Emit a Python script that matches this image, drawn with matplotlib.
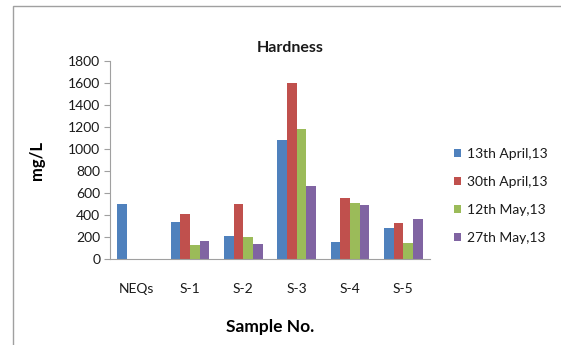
import numpy as np
import matplotlib
matplotlib.use("Agg")
import matplotlib.pyplot as plt
from matplotlib.patches import Rectangle

categories = ["NEQs", "S-1", "S-2", "S-3", "S-4", "S-5"]
series_names = ["13th April,13", "30th April,13", "12th May,13", "27th May,13"]
apr13 = [500, 338, 207, 1084, 152, 283]
apr30 = [np.nan, 405, 500, 1596, 554, 326]
may12 = [np.nan, 131, 198, 1182, 509, 143]
may27 = [np.nan, 164, 134, 664, 490, 368]
yticks = [0, 200, 400, 600, 800, 1000, 1200, 1400, 1600, 1800]

colors = ["#4F81BD", "#C0504D", "#9BBB59", "#8064A2"]
plt.rcParams['font.family'] = ['Lato', 'DejaVu Sans']
plt.rcParams['text.color'] = '#1a1a1a'

fig = plt.figure(figsize=(5.61, 3.45), dpi=100)
fig.patches.append(Rectangle((13/561, -0.1), 1.2, 1 - 6/345 + 0.1, transform=fig.transFigure,
                             fill=False, edgecolor="#A0A0A0", linewidth=1.0))
ax = fig.add_axes([110/561, 1 - 259/345, 320/561, 198/345])

x = np.arange(len(categories))
w = 1 / 5.5
for i, (vals, name) in enumerate(zip([apr13, apr30, may12, may27], series_names)):
    ax.bar(x + (i - 1.5) * w, vals, width=w, color=colors[i], label=name)

ax.set_xlim(-0.5, len(categories) - 0.5)
ax.set_ylim(0, 1800)
ax.set_yticks(yticks)
ax.set_xticks(x)
ax.set_xticklabels(categories)
for s in ["top", "right"]:
    ax.spines[s].set_visible(False)
for s in ["left", "bottom"]:
    ax.spines[s].set_color("#A0A0A0")
ax.tick_params(axis="y", length=4, color="#A0A0A0", labelsize=10, pad=3, labelcolor="#1a1a1a")
ax.tick_params(axis="x", length=0, labelsize=10, pad=17, labelcolor="#1a1a1a")

ax.set_ylabel("mg/L", fontsize=12, fontweight="bold")
ax.yaxis.set_label_coords(-0.203, 0.5)
ax.set_xlabel("Sample No.", fontsize=12.5, fontweight="bold")
ax.xaxis.set_label_coords(0.5, -0.305)
fig.text(290/561, 1 - 48/345, "Hardness", ha="center", va="center", fontsize=11.5, fontweight="bold")

ax.legend(loc="center left", bbox_to_anchor=(448/561, 1 - 196/345), bbox_transform=fig.transFigure,
          frameon=False, fontsize=10, handlelength=0.55, handleheight=0.55, handletextpad=0.4,
          labelspacing=1.15, borderaxespad=0)

fig.savefig("out.png", dpi=100)
